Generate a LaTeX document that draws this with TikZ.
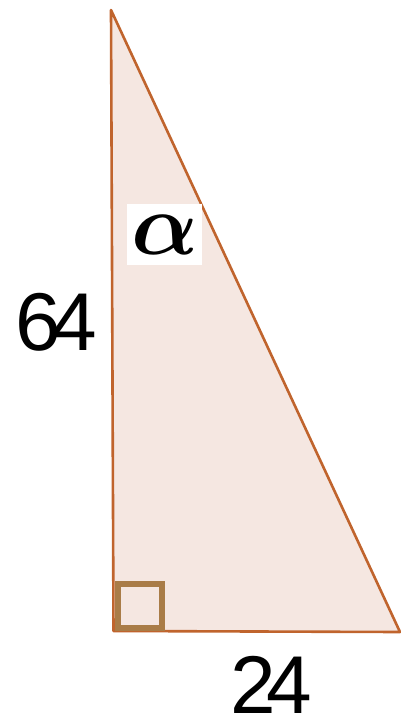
\RequirePackage{fix-cm}
\documentclass[tikz,border=0pt]{standalone}
\usepackage{bm}
\usepackage{fontspec}
\setmainfont{Liberation Sans}
\usepackage{xcolor}
\usetikzlibrary{positioning}

\definecolor{triedge}{HTML}{C0642D}
\definecolor{trifill}{HTML}{F5E7E1}
\definecolor{rightmark}{HTML}{A97C47}

\begin{document}
\begin{tikzpicture}[
    x=1pt, y=-1pt,
    sidelabel/.style={inner sep=0pt, font=\fontsize{82}{82}\selectfont},
    anglelabel/.style={fill=white, inner sep=0pt, minimum width=75pt, minimum height=61pt,
        font=\fontsize{88}{88}\selectfont}
]
\useasboundingbox (0,0) rectangle (400,724);

% --- Corners ---
\coordinate (top)   at (111,10);
\coordinate (corner) at (113.5,631);
\coordinate (right) at (400,632);

% --- Triangle ---
\filldraw[fill=trifill, draw=triedge, line width=2.6pt, line join=round] (top) -- (corner) -- (right) -- cycle;

% --- Right angle mark ---
\draw[rightmark, line width=6pt] (118,584) rectangle (162,628);

% --- Labels ---
\node[anglelabel] (alpha) at (164.5,234.5) {$\bm{\alpha}$};
\node[sidelabel] (height) at (56.5,322) {6\kern-10pt 4};
\node[sidelabel] (base) at (271,685) {2\kern-10pt 4};

\end{tikzpicture}
\end{document}
